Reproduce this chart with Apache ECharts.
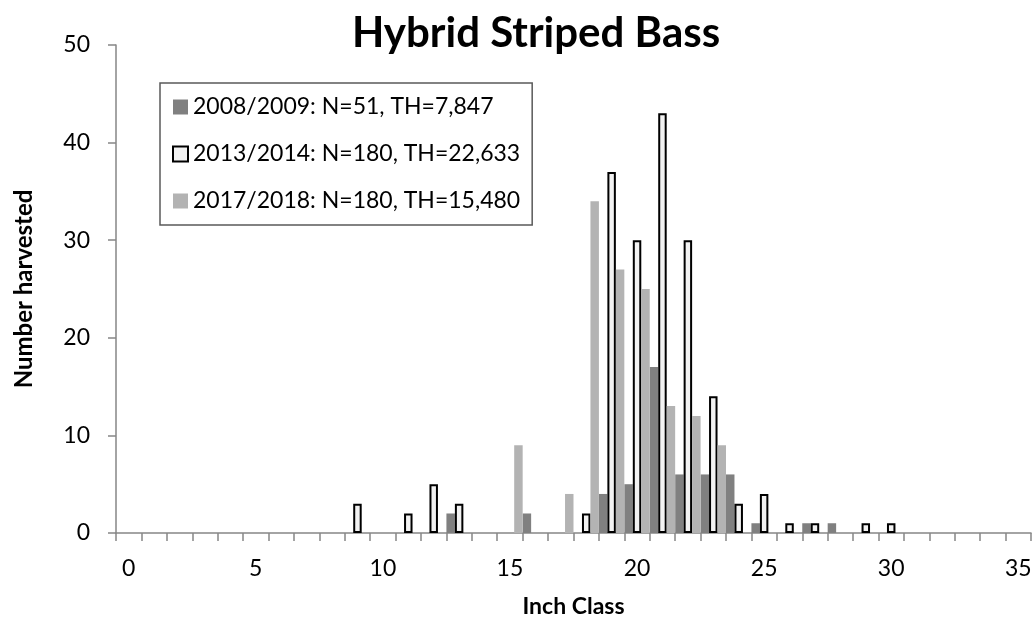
<!DOCTYPE html>
<html>
<head>
<meta charset="utf-8">
<script src="https://cdn.jsdelivr.net/npm/echarts@6/dist/echarts.min.js"></script>
<style>
html,body{margin:0;padding:0;background:#fff;}
#chart{width:1035px;height:624px;}
</style>
</head>
<body>
<div id="chart"></div>
<script>
const categories = ['0','1','2','3','4','5','6','7','8','9','10','11','12','13','14','15','16','17','18','19','20','21','22','23','24','25','26','27','28','29','30','31','32','33','34','35'];
const seriesNames = ['2008/2009: N=51, TH=7,847', '2013/2014: N=180, TH=22,633', '2017/2018: N=180, TH=15,480'];
//                 0 1 2 3 4 5 6 7 8 9 10 11 12 13 14 15 16 17 18 19 20 21 22 23 24 25 26 27 28 29 30 31 32 33 34 35
const values2008 = [0,0,0,0,0,0,0,0,0,0, 0, 0, 0, 2, 0, 0, 2, 0, 0, 4, 5,17, 6, 6, 6, 1, 0, 1, 1, 0, 0, 0, 0, 0, 0, 0];
const values2013 = [0,0,0,0,0,0,0,0,0,3, 0, 2, 5, 3, 0, 0, 0, 0, 2,37,30,43,30,14, 3, 4, 1, 1, 0, 1, 1, 0, 0, 0, 0, 0];
const values2017 = [0,0,0,0,0,0,0,0,0,0, 0, 0, 0, 0, 0, 9, 0, 4,34,27,25,13,12, 9, 0, 0, 0, 0, 0, 0, 0, 0, 0, 0, 0, 0];
const yTicks = [0, 10, 20, 30, 40, 50];

const FONT = 'Lato';
const axisColor = '#868686';
const styles = [
  {color: '#808080'},
  {color: '#f2f2f2', borderColor: '#000000', borderWidth: 2},
  {color: '#b3b3b3'}
];
const dataSets = [values2008, values2013, values2017];

const chart = echarts.init(document.getElementById('chart'), null, {renderer: 'canvas'});
chart.setOption({
  animation: false,
  backgroundColor: '#ffffff',
  title: {
    text: 'Hybrid Striped Bass',
    left: 531,
    top: 7,
    textAlign: 'center',
    textStyle: {fontFamily: FONT, fontWeight: 'bold', fontSize: 42, color: '#000'}
  },
  legend: {
    orient: 'vertical',
    left: 160,
    top: 83,
    padding: [10, 12, 10, 12],
    itemWidth: 15,
    itemHeight: 15,
    itemGap: 19,
    borderColor: '#595959',
    borderWidth: 1.5,
    icon: 'rect',
    textStyle: {fontFamily: FONT, fontSize: 23, color: '#000', lineHeight: 28},
    data: seriesNames.map((n, i) => ({name: n, itemStyle: styles[i]}))
  },
  grid: {left: 116, right: 4, top: 45, bottom: 91, containLabel: false},
  xAxis: {
    type: 'category',
    data: categories,
    boundaryGap: true,
    name: 'Inch Class',
    nameLocation: 'middle',
    nameGap: 62,
    nameTextStyle: {fontFamily: FONT, fontWeight: 'bold', fontSize: 23, color: '#000'},
    axisLine: {lineStyle: {color: axisColor, width: 1.5}},
    axisTick: {show: true, interval: 0, length: 8, inside: false, lineStyle: {color: axisColor, width: 1.5}},
    axisLabel: {interval: 4, margin: 24, fontFamily: FONT, fontSize: 23, color: '#000'},
    splitLine: {show: false}
  },
  yAxis: {
    type: 'value',
    min: yTicks[0],
    max: yTicks[yTicks.length - 1],
    interval: yTicks[1] - yTicks[0],
    name: 'Number harvested',
    nameLocation: 'middle',
    nameGap: 80,
    nameTextStyle: {fontFamily: FONT, fontWeight: 'bold', fontSize: 24, color: '#000'},
    axisLine: {show: true, lineStyle: {color: axisColor, width: 1.5}},
    axisTick: {show: true, length: 8, inside: false, lineStyle: {color: axisColor, width: 1.5}},
    axisLabel: {margin: 26, fontFamily: FONT, fontSize: 23, color: '#000'},
    splitLine: {show: false}
  },
  series: seriesNames.map((n, i) => ({
    name: n,
    type: 'bar',
    data: dataSets[i].map(v => (v === 0 ? '-' : v)),
    barGap: '0%',
    barCategoryGap: '0%',
    itemStyle: styles[i],
    emphasis: {disabled: true}
  }))
});
</script>
</body>
</html>
